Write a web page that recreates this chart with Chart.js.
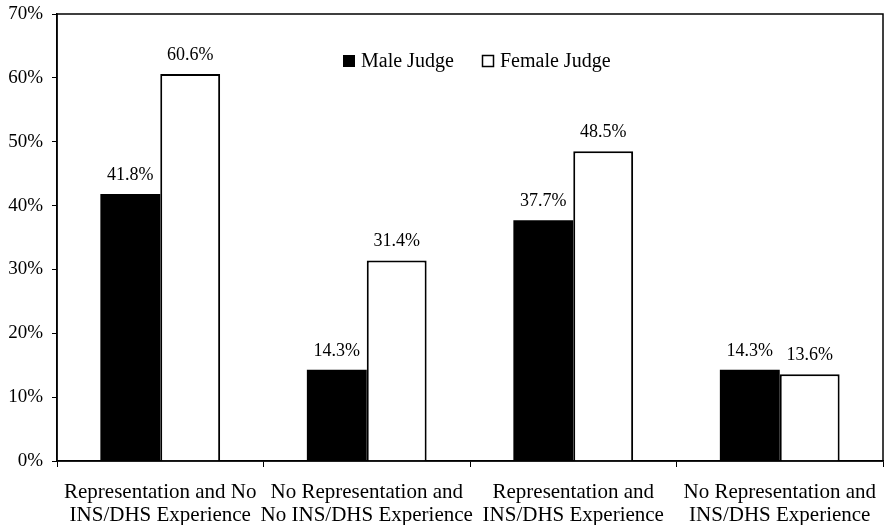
<!DOCTYPE html>
<html>
<head>
<meta charset="utf-8">
<script src="https://cdn.jsdelivr.net/npm/chart.js@4/dist/chart.umd.min.js"></script>
<style>
  html, body { margin: 0; padding: 0; background: #fff; }
  #wrap { width: 884px; height: 525px; }
</style>
</head>
<body>
<div id="wrap"><canvas id="c" width="884" height="525"></canvas></div>
<script>
const categories = [
  ['Representation and No', 'INS/DHS Experience'],
  ['No Representation and', 'No INS/DHS Experience'],
  ['Representation and', 'INS/DHS Experience'],
  ['No Representation and', 'INS/DHS Experience']
];
const maleJudge = [41.8, 14.3, 37.7, 14.3];
const femaleJudge = [60.6, 31.4, 48.5, 13.6];
const yTicks = [0, 10, 20, 30, 40, 50, 60, 70];

const FONT = '"Liberation Serif", "Times New Roman", serif';

// Frame around the plot area (top and right edges complete the box)
const frame = {
  id: 'frame',
  afterDraw(chart) {
    const { ctx, chartArea: a } = chart;
    ctx.save();
    ctx.strokeStyle = '#000';
    ctx.lineWidth = 1.5;
    ctx.strokeRect(a.left, a.top, a.right - a.left, a.bottom - a.top);
    ctx.restore();
  }
};

// Percent labels above each bar
const valueLabels = {
  id: 'valueLabels',
  afterDatasetsDraw(chart) {
    const { ctx } = chart;
    ctx.save();
    ctx.fillStyle = '#000';
    ctx.font = '18px ' + FONT;
    ctx.textAlign = 'center';
    ctx.textBaseline = 'alphabetic';
    chart.data.datasets.forEach((ds, i) => {
      chart.getDatasetMeta(i).data.forEach((bar, j) => {
        ctx.fillText(ds.data[j].toFixed(1) + '%', bar.x, bar.y - 14);
      });
    });
    ctx.restore();
  }
};

// Legend drawn inside the plot area
const innerLegend = {
  id: 'innerLegend',
  afterDraw(chart) {
    const { ctx } = chart;
    ctx.save();
    ctx.font = '20px ' + FONT;
    ctx.textBaseline = 'middle';
    ctx.textAlign = 'left';
    const y = 61;
    const xs = [343, 482];
    const s = 12;
    chart.data.datasets.forEach((ds, i) => {
      const x = xs[i];
      if (ds.backgroundColor === '#000') {
        ctx.fillStyle = '#000';
        ctx.fillRect(x, y - s / 2, s, s);
      } else {
        ctx.strokeStyle = '#000';
        ctx.lineWidth = 1.5;
        ctx.strokeRect(x + 0.5, y - s / 2 + 0.5, s - 1, s - 1);
      }
      ctx.fillStyle = '#000';
      ctx.fillText(ds.label, x + s + 6, y + 1);
    });
    ctx.restore();
  }
};

new Chart(document.getElementById('c'), {
  type: 'bar',
  data: {
    labels: categories,
    datasets: [
      {
        label: 'Male Judge',
        data: maleJudge,
        backgroundColor: '#000',
        borderColor: '#000',
        borderWidth: 0
      },
      {
        label: 'Female Judge',
        data: femaleJudge,
        backgroundColor: '#fff',
        borderColor: '#000',
        borderWidth: 2
      }
    ]
  },
  options: {
    responsive: false,
    animation: false,
    devicePixelRatio: 1,
    layout: { padding: { top: 14, right: 1, left: 0, bottom: 0 } },
    plugins: {
      legend: { display: false },
      tooltip: { enabled: false }
    },
    datasets: {
      bar: { categoryPercentage: 0.58, barPercentage: 1.0 }
    },
    scales: {
      x: {
        grid: {
          display: true,
          drawOnChartArea: false,
          drawTicks: true,
          tickLength: 6,
          color: '#000',
          offset: true
        },
        border: { display: true, color: '#000', width: 1.5 },
        ticks: {
          color: '#000',
          font: { family: FONT, size: 21, lineHeight: 1.1 },
          padding: 14,
          maxRotation: 0,
          autoSkip: false
        },
        afterFit(scale) {
          scale.height = 64;
          scale.paddingLeft = 0;
          scale.paddingRight = 0;
        }
      },
      y: {
        min: 0,
        max: 70,
        afterBuildTicks(scale) {
          scale.ticks = yTicks.map(v => ({ value: v }));
        },
        grid: {
          display: true,
          drawOnChartArea: false,
          drawTicks: true,
          tickLength: 5,
          color: '#000'
        },
        border: { display: true, color: '#000', width: 1.5 },
        ticks: {
          color: '#000',
          font: { family: FONT, size: 19 },
          padding: 9,
          callback: v => v + '%'
        },
        afterFit(scale) {
          scale.width = 57;
          scale.paddingTop = 0;
          scale.paddingBottom = 0;
        }
      }
    }
  },
  plugins: [frame, valueLabels, innerLegend]
});
</script>
</body>
</html>
